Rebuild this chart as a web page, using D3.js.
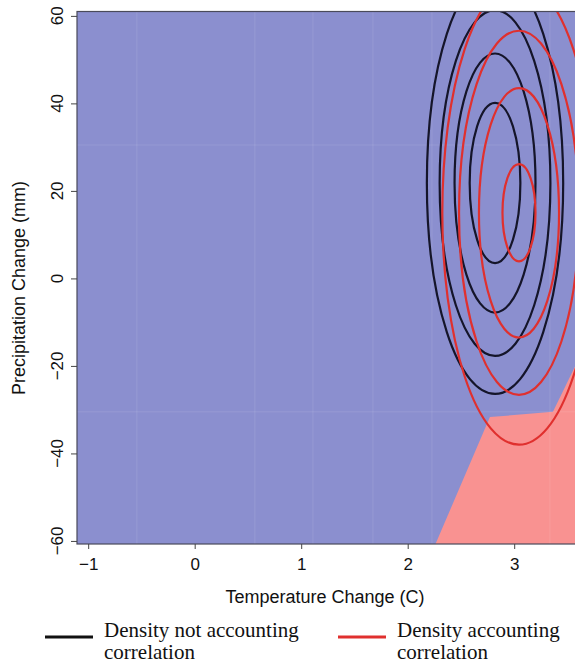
<!DOCTYPE html>
<html>
<head>
<meta charset="utf-8">
<script src="https://cdn.jsdelivr.net/npm/d3@7"></script>
<style>
  body { margin: 0; background: #fff; }
  svg { display: block; }
</style>
</head>
<body>
<div id="chart"></div>
<script>
// ticks
var xTicks = [-1, 0, 1, 2, 3]
var yTicks = [-60, -40, -20, 0, 20, 40, 60]

// contour ellipses (centre and half-widths in data units)
var blackCx = 2.82, blackCy = 21.8
var blackRx = [0.238, 0.38, 0.52, 0.64]
var blackRy = [18.3, 29.6, 39.5, 48.2]

var redCx = 3.045, redCy = 15.0
var redRx = [0.155, 0.376, 0.563, 0.72]
var redRy = [11.1, 28.5, 41.6, 53.0]

// red decision region (temperature, precipitation)
var regionX = [2.256, 2.772, 3.364, 3.57, 3.8, 3.8]
var regionY = [-61, -31.7, -30.5, -20.2, -12, -61]

// faint seams in the raster background
var seamX = [-0.543, 0.565, 1.11, 1.673, 2.227, 3.335]
var seamY = [30.5, -30.5]

var legendLabels = [["Density not accounting", "correlation"], ["Density accounting", "correlation"]]
var legendColors = ["#111111", "#e0302e"]

function draw_chart(config) {
    var width = config.width || 575
    var height = config.height || 663

    var left = 77, top = 11.5, bottom = 544

    var x = d3.scaleLinear().domain([-1.105, 3.8]).range([left, 599.4])
    var y = d3.scaleLinear().domain([-60.7, 61.0]).range([bottom, top])

    var svg = d3.select(config.placeholder).append("svg")
        .attr("width", width)
        .attr("height", height)

    svg.append("clipPath").attr("id", "plot-clip")
        .append("rect")
        .attr("x", x.range()[0]).attr("y", top)
        .attr("width", x.range()[1] - x.range()[0])
        .attr("height", bottom - top)

    var plot = svg.append("g").attr("clip-path", "url(#plot-clip)")

    plot.append("rect")
        .attr("x", x.range()[0]).attr("y", top)
        .attr("width", x.range()[1] - x.range()[0])
        .attr("height", bottom - top)
        .attr("fill", "#8b8fcf")

    var region = regionX.map(function (d, i) { return [x(d), y(regionY[i])] })
    plot.append("path")
        .attr("d", "M" + region.join("L") + "Z")
        .attr("fill", "#f99291")

    plot.selectAll("line.seamx").data(seamX).enter().append("line")
        .attr("class", "seamx")
        .attr("x1", function (d) { return x(d) }).attr("x2", function (d) { return x(d) })
        .attr("y1", top).attr("y2", bottom)
        .attr("stroke", "#ffffff").attr("stroke-opacity", 0.07).attr("stroke-width", 1.5)
    plot.selectAll("line.seamy").data(seamY).enter().append("line")
        .attr("class", "seamy")
        .attr("y1", function (d) { return y(d) }).attr("y2", function (d) { return y(d) })
        .attr("x1", x.range()[0]).attr("x2", x.range()[1])
        .attr("stroke", "#ffffff").attr("stroke-opacity", 0.07).attr("stroke-width", 1.5)

    var kx = x(1) - x(0), ky = y(0) - y(1)

    plot.selectAll("ellipse.black").data(blackRx).enter().append("ellipse")
        .attr("class", "black")
        .attr("cx", x(blackCx)).attr("cy", y(blackCy))
        .attr("rx", function (d) { return d * kx })
        .attr("ry", function (d, i) { return blackRy[i] * ky })
        .attr("fill", "none")
        .attr("stroke", "#15152a")
        .attr("stroke-width", 2.2)

    plot.selectAll("ellipse.red").data(redRx).enter().append("ellipse")
        .attr("class", "red")
        .attr("cx", x(redCx)).attr("cy", y(redCy))
        .attr("rx", function (d) { return d * kx })
        .attr("ry", function (d, i) { return redRy[i] * ky })
        .attr("fill", "none")
        .attr("stroke", legendColors[1])
        .attr("stroke-width", 2.2)

    // box
    svg.append("rect")
        .attr("x", x.range()[0]).attr("y", top)
        .attr("width", x.range()[1] - x.range()[0])
        .attr("height", bottom - top)
        .attr("fill", "none")
        .attr("stroke", "#4a4a5a")
        .attr("stroke-width", 1.2)

    var font = "'Liberation Sans', Arial, Helvetica, sans-serif"

    var xAxis = svg.append("g")
        .attr("transform", "translate(0," + bottom + ")")
        .call(d3.axisBottom(x).tickValues(xTicks).tickSize(5).tickPadding(9)
            .tickFormat(function (d) { return d < 0 ? "\u2212" + Math.abs(d) : d }))
    xAxis.select(".domain").remove()
    xAxis.selectAll("line").attr("stroke", "#444")
    xAxis.selectAll("text")
        .style("font-family", font).style("font-size", "17px").attr("fill", "#111")

    var yAxis = svg.append("g")
        .attr("transform", "translate(" + left + ",0)")
        .call(d3.axisLeft(y).tickValues(yTicks).tickSize(6).tickFormat(""))
    yAxis.select(".domain").remove()
    yAxis.selectAll("line").attr("stroke", "#444")

    svg.selectAll("text.ylab").data(yTicks).enter().append("text")
        .attr("class", "ylab")
        .attr("transform", function (d) { return "translate(63," + y(d) + ") rotate(-90)" })
        .attr("text-anchor", "middle")
        .style("font-family", font).style("font-size", "17px").attr("fill", "#111")
        .text(function (d) { return d < 0 ? "\u2212" + Math.abs(d) : d })

    svg.append("text")
        .attr("x", 325).attr("y", 603)
        .attr("text-anchor", "middle")
        .style("font-family", font).style("font-size", "18px").attr("fill", "#111")
        .text("Temperature Change (C)")

    svg.append("text")
        .attr("transform", "translate(25,288) rotate(-90)")
        .attr("text-anchor", "middle")
        .style("font-family", font).style("font-size", "18px").attr("fill", "#111")
        .text("Precipitation Change (mm)")

    // legend
    var legX = [45, 338]
    var leg = svg.selectAll("g.leg").data(legendLabels).enter().append("g")
        .attr("class", "leg")
        .attr("transform", function (d, i) { return "translate(" + legX[i] + ",0)" })
    leg.append("line")
        .attr("x1", 0).attr("x2", 48).attr("y1", 637).attr("y2", 637)
        .attr("stroke", function (d, i) { return legendColors[i] })
        .attr("stroke-width", 2.8)
    leg.each(function (d) {
        var g = d3.select(this)
        d.forEach(function (s, j) {
            g.append("text")
                .attr("x", 59).attr("y", 637 + j * 22)
                .style("font-family", "'Liberation Serif', 'Times New Roman', serif")
                .style("font-size", "21px").attr("fill", "#111")
                .text(s)
        })
    })
}

var config = {}
config.placeholder = '#chart'
draw_chart(config)
</script>
</body>
</html>
